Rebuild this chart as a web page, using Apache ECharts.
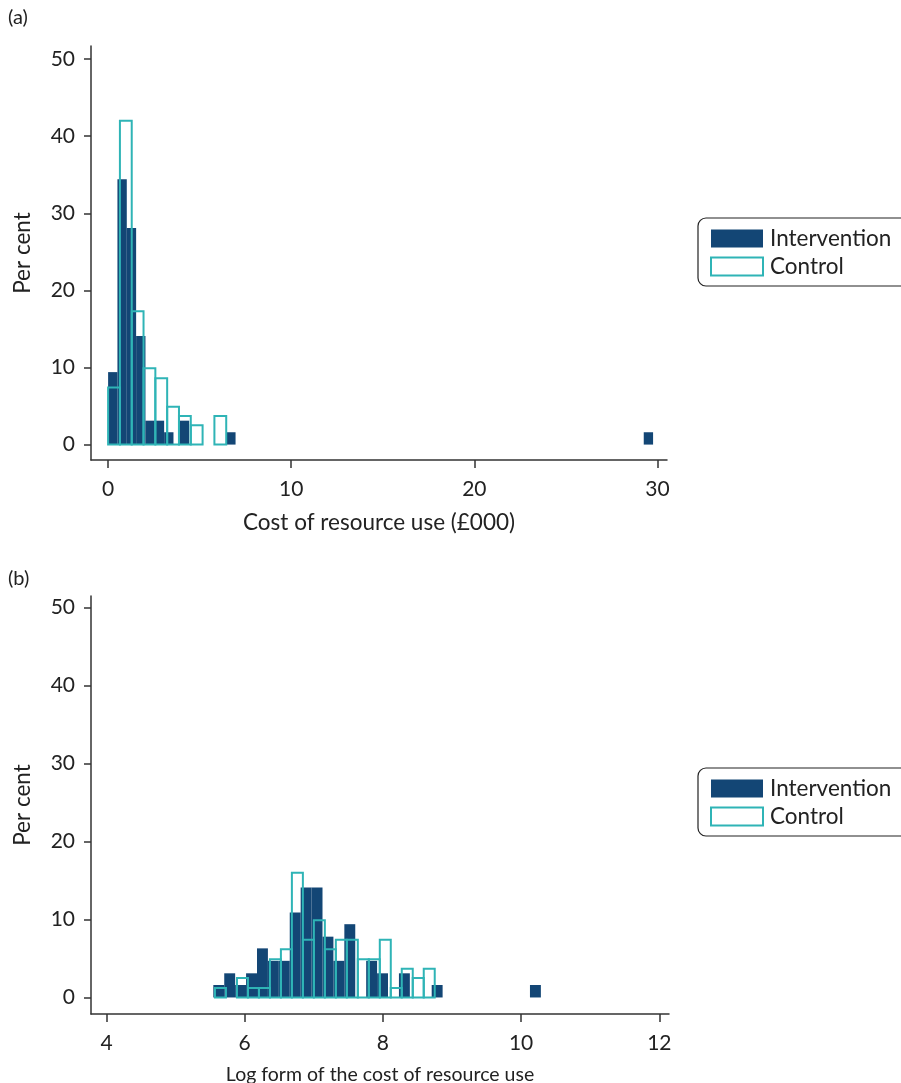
<!DOCTYPE html>
<html>
<head>
<meta charset="utf-8">
<script src="https://cdn.jsdelivr.net/npm/echarts@6/dist/echarts.min.js"></script>
<style>
  html, body { margin: 0; padding: 0; background: #fff; }
  #chart { width: 901px; height: 1083px; }
</style>
</head>
<body>
<div id="chart"></div>
<script>
// (a) cost of resource use, £000 -- bin left edges and per cent per bin
const costTicks = [0, 10, 20, 30];
const costIntLeft = [0, 0.51, 1.02, 1.53, 2.04, 2.55, 3.06, 3.92, 6.45, 29.25];
const costIntPct = [9.4, 34.4, 28.1, 14.1, 3.1, 3.1, 1.6, 3.1, 1.6, 1.6];
const costIntWidth = 0.51;
const costCtlLeft = [0, 0.645, 1.29, 1.935, 2.58, 3.225, 3.87, 4.515, 5.805];
const costCtlPct = [7.4, 42.0, 17.3, 9.9, 8.6, 4.9, 3.7, 2.5, 3.7];
const costCtlWidth = 0.645;

// (b) log form of the cost
const logTicks = [4, 6, 8, 10, 12];
const logIntLeft = [5.546, 5.704, 5.862, 6.02, 6.178, 6.336, 6.494, 6.652, 6.81, 6.968,
  7.126, 7.284, 7.442, 7.758, 7.916, 8.232, 8.706, 10.128];
const logIntPct = [1.6, 3.1, 1.6, 3.1, 6.3, 4.7, 4.7, 10.9, 14.1, 14.1,
  7.8, 4.7, 9.4, 4.7, 3.1, 3.1, 1.6, 1.6];
const logIntWidth = 0.158;
const logCtlLeft = [5.57, 5.888, 6.047, 6.206, 6.365, 6.524, 6.683, 6.842, 7.001,
  7.16, 7.319, 7.478, 7.637, 7.796, 7.955, 8.114, 8.273, 8.432, 8.591];
const logCtlPct = [1.2, 2.5, 1.2, 1.2, 4.9, 6.2, 16.0, 7.4, 9.9,
  6.2, 7.4, 7.4, 4.9, 4.9, 7.4, 1.2, 3.7, 2.5, 3.7];
const logCtlWidth = 0.159;

const pctTicks = [0, 10, 20, 30, 40, 50];

const NAVY = '#134675';
const TEAL = '#2fb4b6';
const INK = '#222';
const FONT = 'Lato';

function toBins(left, pct, width) {
  return left.map((l, i) => [l, l + width, pct[i]]);
}

function histBar(filled) {
  return function (params, api) {
    const p0 = api.coord([api.value(0), api.value(2)]);
    const p1 = api.coord([api.value(1), 0]);
    return {
      type: 'rect',
      shape: { x: p0[0], y: p0[1], width: p1[0] - p0[0], height: p1[1] - p0[1] },
      style: filled ? { fill: NAVY } : { fill: 'none', stroke: TEAL, lineWidth: 2 }
    };
  };
}

function xAxisFor(grid, min, max, ticks, name, nameSize, nameGap) {
  return {
    type: 'value', gridIndex: grid, min: min, max: max,
    name: name, nameLocation: 'middle', nameGap: nameGap,
    nameTextStyle: { color: INK, fontFamily: FONT, fontSize: nameSize },
    axisLine: { onZero: false, lineStyle: { color: '#333', width: 1.5 } },
    axisTick: { customValues: ticks, length: 8, lineStyle: { color: '#333', width: 1.5 } },
    axisLabel: { customValues: ticks, margin: 19, color: INK, fontFamily: FONT, fontSize: 21 },
    splitLine: { show: false }
  };
}

function yAxisFor(grid, min, max) {
  return {
    type: 'value', gridIndex: grid, min: min, max: max,
    name: 'Per cent', nameLocation: 'middle', nameGap: 57,
    nameTextStyle: { color: INK, fontFamily: FONT, fontSize: 22.5 },
    axisLine: { onZero: false, lineStyle: { color: '#333', width: 1.5 } },
    axisTick: { customValues: pctTicks, length: 7, lineStyle: { color: '#333', width: 1.5 } },
    axisLabel: { customValues: pctTicks, margin: 16, color: INK, fontFamily: FONT, fontSize: 21 },
    splitLine: { show: false }
  };
}

function legendAt(top) {
  return {
    left: 698, top: top, orient: 'vertical',
    backgroundColor: '#fff', borderColor: '#222', borderWidth: 1.2, borderRadius: 8,
    padding: [9, 40, 8, 12], itemGap: 5, itemWidth: 52, itemHeight: 18,
    icon: 'rect',
    textStyle: { color: INK, fontFamily: FONT, fontSize: 22.5, padding: [0, 0, 0, 2] },
    data: [
      { name: 'Intervention', itemStyle: { color: NAVY } },
      { name: 'Control', itemStyle: { color: '#fff', borderColor: TEAL, borderWidth: 2 } }
    ]
  };
}

const chart = echarts.init(document.getElementById('chart'), null, { renderer: 'canvas' });

chart.setOption({
  animation: false,
  backgroundColor: '#fff',
  grid: [
    { left: 91, top: 46, width: 576, height: 414, outerBoundsMode: 'none' },
    { left: 91, top: 596, width: 578, height: 418, outerBoundsMode: 'none' }
  ],
  xAxis: [
    xAxisFor(0, -0.934, 30.52, costTicks, 'Cost of resource use (£000)', 22.5, 51),
    xAxisFor(1, 3.776, 12.14, logTicks, 'Log form of the cost of resource use', 19.5, 51)
  ],
  yAxis: [
    yAxisFor(0, -2.0, 51.7),
    yAxisFor(1, -2.12, 51.5)
  ],
  legend: [legendAt(218), legendAt(768)],
  graphic: [
    { type: 'text', left: 8, top: 8, style: { text: '(a)', font: '20px Lato', fill: INK } },
    { type: 'text', left: 8, top: 569, style: { text: '(b)', font: '20px Lato', fill: INK } }
  ],
  series: [
    { name: 'Intervention', type: 'custom', xAxisIndex: 0, yAxisIndex: 0,
      renderItem: histBar(true), encode: { x: [0, 1], y: 2 },
      itemStyle: { color: NAVY },
      data: toBins(costIntLeft, costIntPct, costIntWidth) },
    { name: 'Control', type: 'custom', xAxisIndex: 0, yAxisIndex: 0,
      renderItem: histBar(false), encode: { x: [0, 1], y: 2 },
      itemStyle: { color: TEAL },
      data: toBins(costCtlLeft, costCtlPct, costCtlWidth) },
    { name: 'Intervention', type: 'custom', xAxisIndex: 1, yAxisIndex: 1,
      renderItem: histBar(true), encode: { x: [0, 1], y: 2 },
      itemStyle: { color: NAVY },
      data: toBins(logIntLeft, logIntPct, logIntWidth) },
    { name: 'Control', type: 'custom', xAxisIndex: 1, yAxisIndex: 1,
      renderItem: histBar(false), encode: { x: [0, 1], y: 2 },
      itemStyle: { color: TEAL },
      data: toBins(logCtlLeft, logCtlPct, logCtlWidth) }
  ]
});
</script>
</body>
</html>
